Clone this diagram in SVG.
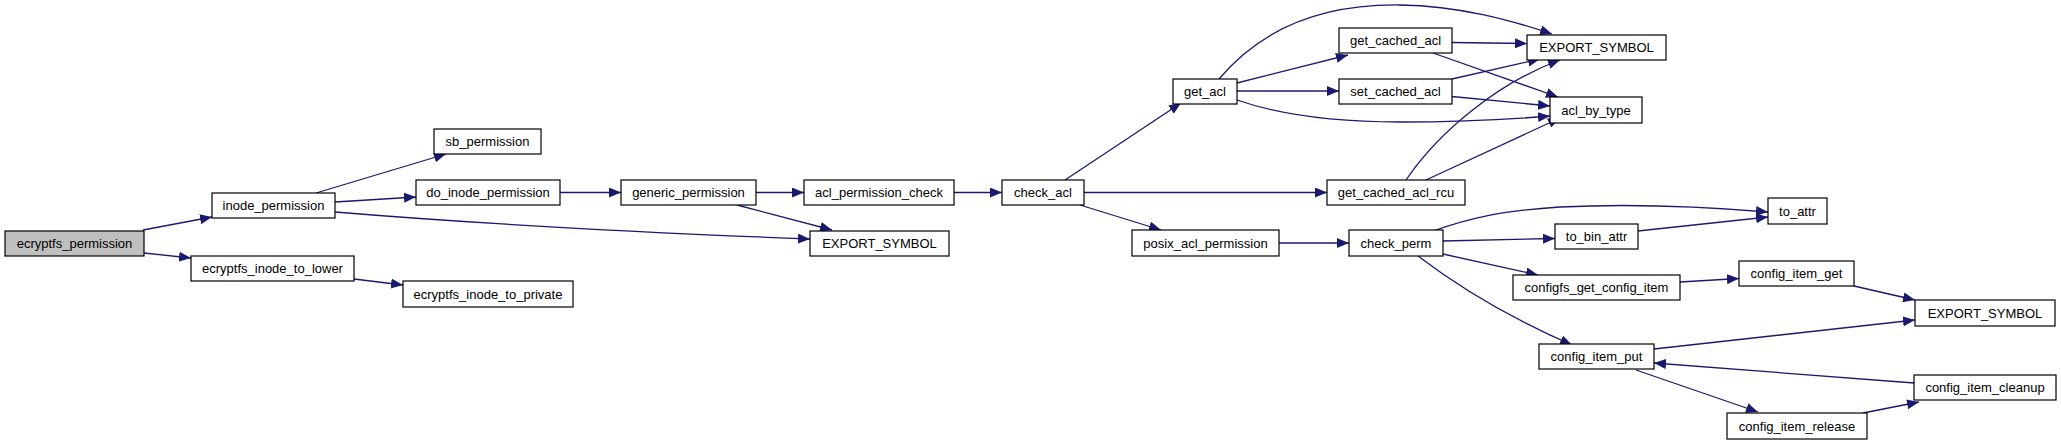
<svg xmlns="http://www.w3.org/2000/svg" width="2061" height="445" viewBox="0 0 2061 445">
<defs>
<marker id="ah" markerUnits="userSpaceOnUse" markerWidth="12" markerHeight="10" refX="12" refY="5" orient="auto">
<path d="M0,0 L12,5 L0,10 z" fill="#191970"/>
</marker>
<style>
.n rect{fill:#fff;stroke:#000;stroke-width:1.2}
.n.root rect{fill:#bfbfbf}
.n text{font-family:"Liberation Sans",Arial,sans-serif;font-size:13px;fill:#000;text-anchor:middle}
#edges path{fill:none;stroke:#191970;stroke-width:1.3;marker-end:url(#ah)}
</style>
</defs>
<rect width="2061" height="445" fill="#fff"/>
<g id="edges">
<path d="M143,230 L212,217"/>
<path d="M144,253 L191,258"/>
<path d="M316,193 L446,154"/>
<path d="M335,202 L416,197"/>
<path d="M335,212 C480,224 680,234 810,239"/>
<path d="M354,279 L403,285"/>
<path d="M560,192.5 L621,192.5"/>
<path d="M756,192.5 L804,192.5"/>
<path d="M737,205 L832,230"/>
<path d="M954,192.5 L1002,192.5"/>
<path d="M1065,180 L1181,103"/>
<path d="M1084,192.5 L1327,192.5"/>
<path d="M1080,205 L1161,230"/>
<path d="M1219,79 C1260,30 1320,4 1400,5 C1460,6 1510,20 1552,34"/>
<path d="M1237,83 L1348,55"/>
<path d="M1237,91 L1339,91"/>
<path d="M1237,100 C1280,115 1330,122 1400,122 C1470,122 1515,119 1550,116"/>
<path d="M1452,42.5 L1527,43.5"/>
<path d="M1433,53 L1558,97"/>
<path d="M1452,79 L1540,59"/>
<path d="M1452,96.5 L1550,106"/>
<path d="M1406,180 C1440,130 1500,82 1560,60"/>
<path d="M1426,180 L1560,118"/>
<path d="M1279,243 L1349,243"/>
<path d="M1433,231 C1470,218 1500,211 1560,207 C1640,203 1720,208 1768,212"/>
<path d="M1443,241 L1555,238.5"/>
<path d="M1443,254 L1538,275"/>
<path d="M1418,256 C1460,288 1510,318 1572,345"/>
<path d="M1638,231 L1768,217"/>
<path d="M1680,282 L1739,278.5"/>
<path d="M1854,286 L1915,300"/>
<path d="M1654,349 L1915,320"/>
<path d="M1636,370 L1758,412"/>
<path d="M1863,413 L1919,402"/>
<path d="M1914,383 L1654,363"/>
</g>
<g id="ecryptfs_permission" class="n root"><rect x="5" y="231" width="139" height="25"/><text x="74.5" y="248">ecryptfs_permission</text></g>
<g id="inode_permission" class="n"><rect x="212" y="193" width="123" height="25"/><text x="273.5" y="210">inode_permission</text></g>
<g id="sb_permission" class="n"><rect x="434" y="129" width="107" height="25"/><text x="487.5" y="146">sb_permission</text></g>
<g id="do_inode_permission" class="n"><rect x="416" y="180" width="144" height="25"/><text x="488" y="197">do_inode_permission</text></g>
<g id="ecryptfs_inode_to_lower" class="n"><rect x="191" y="256" width="163" height="25"/><text x="272.5" y="273">ecryptfs_inode_to_lower</text></g>
<g id="ecryptfs_inode_to_private" class="n"><rect x="403" y="281" width="170" height="26"/><text x="488" y="298.5">ecryptfs_inode_to_private</text></g>
<g id="generic_permission" class="n"><rect x="621" y="180" width="135" height="25"/><text x="688.5" y="197">generic_permission</text></g>
<g id="acl_permission_check" class="n"><rect x="804" y="180" width="150" height="25"/><text x="879" y="197">acl_permission_check</text></g>
<g id="EXPORT_SYMBOL_1" class="n"><rect x="810" y="231" width="139" height="25"/><text x="879.5" y="248">EXPORT_SYMBOL</text></g>
<g id="check_acl" class="n"><rect x="1002" y="180" width="82" height="25"/><text x="1043" y="197">check_acl</text></g>
<g id="get_acl" class="n"><rect x="1173" y="79" width="64" height="25"/><text x="1205" y="96">get_acl</text></g>
<g id="get_cached_acl" class="n"><rect x="1339" y="28" width="113" height="25"/><text x="1395.5" y="45">get_cached_acl</text></g>
<g id="set_cached_acl" class="n"><rect x="1339" y="79" width="113" height="25"/><text x="1395.5" y="96">set_cached_acl</text></g>
<g id="EXPORT_SYMBOL_2" class="n"><rect x="1527" y="35" width="139" height="25"/><text x="1596.5" y="52">EXPORT_SYMBOL</text></g>
<g id="acl_by_type" class="n"><rect x="1550" y="97" width="92" height="26"/><text x="1596" y="114.5">acl_by_type</text></g>
<g id="get_cached_acl_rcu" class="n"><rect x="1327" y="180" width="138" height="25"/><text x="1396" y="197">get_cached_acl_rcu</text></g>
<g id="posix_acl_permission" class="n"><rect x="1132" y="230" width="147" height="26"/><text x="1205.5" y="247.5">posix_acl_permission</text></g>
<g id="check_perm" class="n"><rect x="1349" y="230" width="94" height="26"/><text x="1396" y="247.5">check_perm</text></g>
<g id="to_attr" class="n"><rect x="1768" y="198" width="59" height="26"/><text x="1797.5" y="215.5">to_attr</text></g>
<g id="to_bin_attr" class="n"><rect x="1555" y="224" width="83" height="25"/><text x="1596.5" y="241">to_bin_attr</text></g>
<g id="configfs_get_config_item" class="n"><rect x="1513" y="275" width="167" height="25"/><text x="1596.5" y="292">configfs_get_config_item</text></g>
<g id="config_item_get" class="n"><rect x="1739" y="261" width="115" height="25"/><text x="1796.5" y="278">config_item_get</text></g>
<g id="EXPORT_SYMBOL_3" class="n"><rect x="1915" y="300" width="140" height="26"/><text x="1985" y="317.5">EXPORT_SYMBOL</text></g>
<g id="config_item_put" class="n"><rect x="1539" y="344" width="115" height="25"/><text x="1596.5" y="361">config_item_put</text></g>
<g id="config_item_cleanup" class="n"><rect x="1914" y="375" width="142" height="25"/><text x="1985" y="392">config_item_cleanup</text></g>
<g id="config_item_release" class="n"><rect x="1727" y="413" width="140" height="26"/><text x="1797" y="430.5">config_item_release</text></g>
</svg>
